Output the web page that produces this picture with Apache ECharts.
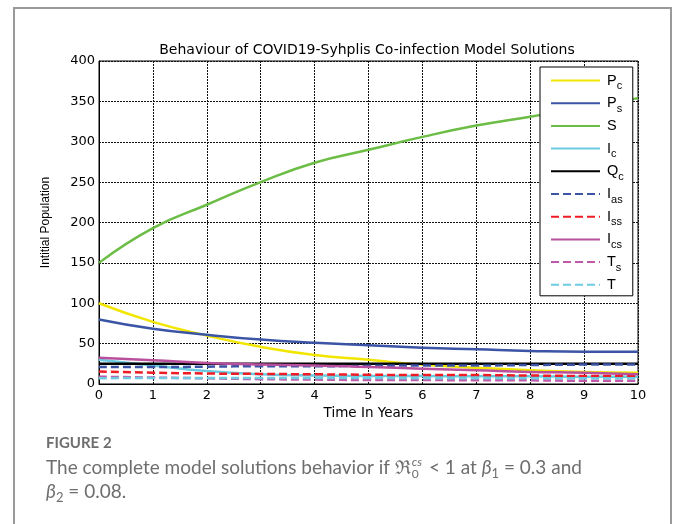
<!DOCTYPE html>
<html><head><meta charset="utf-8">
<script src="https://cdn.jsdelivr.net/npm/echarts@6/dist/echarts.min.js"></script>
<style>html,body{margin:0;padding:0;background:#fff}#c{width:681px;height:524px}</style>
</head><body><div id="c"></div>
<script>
const years = [0,1,2,3,4,5,6,7,8,9,10];
const Pc  = [100,77,60,46,36,30,24,20,17,15,14];
const Ps  = [80,68.5,61,55,51,48,45,43,41,40,40];
const S   = [150,193,222,250,274,290,306,320,331,342,354];
const Ic  = [30,23,16,12,10.5,10,10,9.5,9.5,9,9];
const Qc  = [25,25,25,25,25,25,25,25,25,25,25];
const Ias = [21,21,21.5,22,22,22.5,23,23,23.5,24,24];
const Iss = [15.5,14,13,12.5,12,11.5,11,11,10.5,10,10];
const Ics = [32.5,29.5,26,24,23,21,19,17,15,14,12];
const Ts  = [9,8,7,6,5.5,5,5,4.5,4.5,4,4];
const T   = [7,7.5,7.5,7.5,7.5,7.5,7,7,7,7,7];
const seriesNames = ['Pc','Ps','S','Ic','Qc','Ias','Iss','Ics','Ts','T'];
const xTicks = [0,1,2,3,4,5,6,7,8,9,10];
const yTicks = [0,50,100,150,200,250,300,350,400];

const dataMap = {Pc,Ps,S,Ic,Qc,Ias,Iss,Ics,Ts,T};
const styleMap = {
  Pc:{color:'#f2e600',type:'solid'},
  Ps:{color:'#3b54a5',type:'solid'},
  S:{color:'#6cbd45',type:'solid'},
  Ic:{color:'#6ccbe0',type:'solid'},
  Qc:{color:'#000000',type:'solid'},
  Ias:{color:'#3b54a5',type:[8,4]},
  Iss:{color:'#ee1c25',type:[8,4]},
  Ics:{color:'#b9509e',type:'solid'},
  Ts:{color:'#c05aa8',type:[8,4]},
  T:{color:'#6ccbe0',type:[8,4]}
};

const chart = echarts.init(document.getElementById('c'));
const F = '"Liberation Sans", Arial, sans-serif';
const D = '"DejaVu Sans", sans-serif';

// caption layout measuring
const cv = document.createElement('canvas').getContext('2d');
function mw(t, font){ cv.font = font; return cv.measureText(t).width; }
const capFont = 'Lato, "Open Sans", sans-serif';
const capSize = 19;
const capX = 46, capY1 = 468, capY2 = 492;
const partA = 'The complete model solutions behavior if \u211C';
const wA = mw(partA, capSize + 'px ' + capFont);
const wCs = mw('cs', 'italic 12px ' + capFont);
const capColor = '#6e6e6e';

const option = {
  animation:false,
  backgroundColor:'#fff',
  title:{
    text:'Behaviour of COVID19-Syhplis Co-infection Model Solutions',
    left:362, top:38, textAlign:'center',
    textStyle:{fontFamily:D, fontSize:14, fontWeight:'normal', color:'#000'}
  },
  grid:{left:99, right:43, top:61, bottom:140, show:true, borderColor:'#000', borderWidth:1},
  legend:{
    orient:'vertical', left:540, top:67,
    padding:[6,9,0,10], itemGap:4.2, itemWidth:49, itemHeight:14,
    backgroundColor:'#fff', borderColor:'#000', borderWidth:1, borderRadius:0,
    itemStyle:{opacity:0},
    data:seriesNames,
    formatter: n => '{m|' + n[0] + '}{s|' + n.slice(1) + '}',
    textStyle:{
      fontFamily:F, color:'#000',
      rich:{
        m:{fontSize:14.5, lineHeight:22, fontFamily:F, color:'#000', padding:[0,0,0,2]},
        s:{fontSize:11, lineHeight:10, verticalAlign:'bottom', fontFamily:F, color:'#000'}
      }
    }
  },
  xAxis:{
    type:'value', min:0, max:10, interval:1,
    name:'Time In Years', nameLocation:'middle', nameGap:22,
    nameTextStyle:{fontFamily:D, fontSize:13.5, color:'#000'},
    axisLine:{show:true, lineStyle:{color:'#000'}},
    axisTick:{show:false},
    axisLabel:{fontFamily:D, fontSize:13, color:'#000', margin:5,
      formatter: v => xTicks.includes(v) ? String(v) : ''},
    splitLine:{show:true, lineStyle:{color:'#111', type:[2,1], width:1}}
  },
  yAxis:{
    type:'value', min:0, max:400, interval:50,
    name:'Intitial Population', nameLocation:'middle', nameGap:47,
    nameTextStyle:{fontFamily:F, fontSize:12, color:'#000'},
    axisLine:{show:true, lineStyle:{color:'#000'}},
    axisTick:{show:false},
    axisLabel:{fontFamily:D, fontSize:13, color:'#000', margin:4,
      formatter: v => yTicks.includes(v) ? String(v) : ''},
    splitLine:{show:true, lineStyle:{color:'#111', type:[2,1], width:1}}
  },
  series: seriesNames.map(n => ({
    name:n, type:'line', smooth:true, symbol:'none',
    data: years.map((x,i)=>[x, dataMap[n][i]]),
    lineStyle:{color:styleMap[n].color, type:styleMap[n].type, width:2.5},
    itemStyle:{color:styleMap[n].color}
  })),
  graphic:[
    {type:'rect', shape:{x:14, y:8, width:657, height:530}, style:{fill:'none', stroke:'#9a9a9a', lineWidth:2}, silent:true},
    {type:'text', left:capX, top:436, style:{text:'FIGURE 2', font:'bold 15px ' + capFont, fill:capColor}},
    {type:'text', x:capX, y:capY1, style:{text:partA, font:capSize + 'px ' + capFont, fill:capColor, textVerticalAlign:'middle'}},
    {type:'text', x:capX + wA + 1, y:capY1 - 6, style:{text:'cs', font:'italic 12px ' + capFont, fill:capColor, textVerticalAlign:'middle'}},
    {type:'text', x:capX + wA + 1, y:capY1 + 6, style:{text:'0', font:'12px ' + capFont, fill:capColor, textVerticalAlign:'middle'}},
    {type:'text', x:capX + wA + wCs + 3, y:capY1, style:{
      text:'{t| < 1 at }{b|\u03B2}{s|1}{t| = 0.3 and}',
      textVerticalAlign:'middle', fill:capColor,
      rich:{
        t:{fontSize:capSize, fontFamily:capFont, lineHeight:24, fill:capColor},
        b:{fontSize:capSize, fontFamily:capFont, fontStyle:'italic', lineHeight:24, fill:capColor},
        s:{fontSize:13, fontFamily:capFont, lineHeight:13, verticalAlign:'bottom', fill:capColor}
      }}},
    {type:'text', x:capX, y:capY2, style:{
      text:'{b|\u03B2}{s|2}{t| = 0.08.}',
      textVerticalAlign:'middle', fill:capColor,
      rich:{
        t:{fontSize:capSize, fontFamily:capFont, lineHeight:24, fill:capColor},
        b:{fontSize:capSize, fontFamily:capFont, fontStyle:'italic', lineHeight:24, fill:capColor},
        s:{fontSize:13, fontFamily:capFont, lineHeight:13, verticalAlign:'bottom', fill:capColor}
      }}}
  ]
};
chart.setOption(option);
</script></body></html>
